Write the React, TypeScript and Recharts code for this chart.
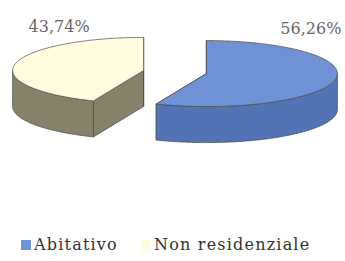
import { PieChart, Pie, Cell, Legend } from "recharts";

const categories = ["Abitativo", "Non residenziale"];
const shares = [56.26, 43.74];
const shareLabels = ["56,26%", "43,74%"];

const topColors = ["#6f92d6", "#fffce0"];
const sideColors = ["#5373b4", "#86816b"];

const data = categories.map((name, i) => ({
  name,
  value: shares[i],
  label: shareLabels[i],
  top: topColors[i],
  side: sideColors[i],
}));

const RX = 131;
const RY = 33;
const DEPTH = 36;
const EXPLODE = 32;
const RAD = Math.PI / 180;

// fake 3d slice drawn from the angles recharts computed
function Slice3D(props: any) {
  const { cx, cy, startAngle, endAngle, midAngle, payload, index } = props;
  const k = RY / RX;
  const ex = cx + EXPLODE * Math.cos(midAngle * RAD);
  const ey = cy - EXPLODE * k * Math.sin(midAngle * RAD);
  const pt = (a: number, d = 0) => [ex + RX * Math.cos(a * RAD), ey - RY * Math.sin(a * RAD) + d];
  const lo = Math.min(startAngle, endAngle);
  const hi = Math.max(startAngle, endAngle);
  const arc = (a: number, b: number, d = 0) => {
    const pts: number[][] = [];
    const n = Math.max(2, Math.ceil(Math.abs(b - a)));
    for (let i = 0; i <= n; i++) pts.push(pt(a + ((b - a) * i) / n, d));
    return pts;
  };
  const poly = (pts: number[][]) => pts.map((p) => p.join(",")).join(" ");
  const edge = "#4a4a44";

  const walls: number[][][] = [];
  for (let j = -2; j <= 1; j++) {
    const a = Math.max(lo, -180 + 360 * j);
    const b = Math.min(hi, 360 * j);
    if (b > a) walls.push([...arc(a, b), ...arc(b, a, DEPTH)]);
  }
  const cut = (a: number) => [[ex, ey], pt(a), pt(a, DEPTH), [ex, ey + DEPTH]];
  const top = [[ex, ey], ...arc(startAngle, endAngle)];
  const right = Math.cos(midAngle * RAD) > 0;

  return (
    <g key={`s-${index}`}>
      <polygon points={poly(cut(startAngle))} fill={payload.side} stroke={edge} strokeWidth={0.7} />
      <polygon points={poly(cut(endAngle))} fill={payload.side} stroke={edge} strokeWidth={0.7} />
      {walls.map((w, i) => (
        <polygon key={i} points={poly(w)} fill={payload.side} stroke={edge} strokeWidth={0.7} />
      ))}
      <polygon points={poly(top)} fill={payload.top} stroke={edge} strokeWidth={0.7} />
      <text
        x={right ? ex + RX + 4 : ex - RX + 16}
        y={right ? ey - RY - 7 : ey - RY - 5}
        textAnchor={right ? "end" : "start"}
        fontFamily="DejaVu Serif"
        fontSize={16}
        fill="#666"
      >
        {payload.label}
      </text>
    </g>
  );
}

function LegendBox({ payload }: any) {
  return (
    <div style={{ display: "flex", alignItems: "center", fontFamily: "DejaVu Serif", fontSize: 16, letterSpacing: 1.2, color: "#333" }}>
      {(payload || []).map((p: any, i: number) => (
        <span key={i} style={{ display: "flex", alignItems: "center", width: i === 0 ? 120 : "auto" }}>
          <span style={{ width: 10, height: 10, background: topColors[i], marginRight: 3, display: "inline-block" }} />
          {p.value}
        </span>
      ))}
    </div>
  );
}

export default function App() {
  return (
    <div style={{ position: "absolute", left: 0, top: 0, background: "#fff" }}>
      <PieChart width={345} height={261} margin={{ top: 0, right: 0, bottom: 0, left: 0 }}>
        <Pie
          data={data}
          dataKey="value"
          nameKey="name"
          cx={175}
          cy={72}
          outerRadius={RX}
          startAngle={90}
          endAngle={-270}
          fillOpacity={0}
          stroke="none"
          label={Slice3D}
          labelLine={false}
          isAnimationActive={false}
        >
          {data.map((d, i) => (
            <Cell key={i} fill={d.top} />
          ))}
        </Pie>
        <Legend
          content={LegendBox}
          wrapperStyle={{ position: "absolute", left: 21, top: 235, width: "auto", bottom: "auto" }}
        />
      </PieChart>
    </div>
  );
}
